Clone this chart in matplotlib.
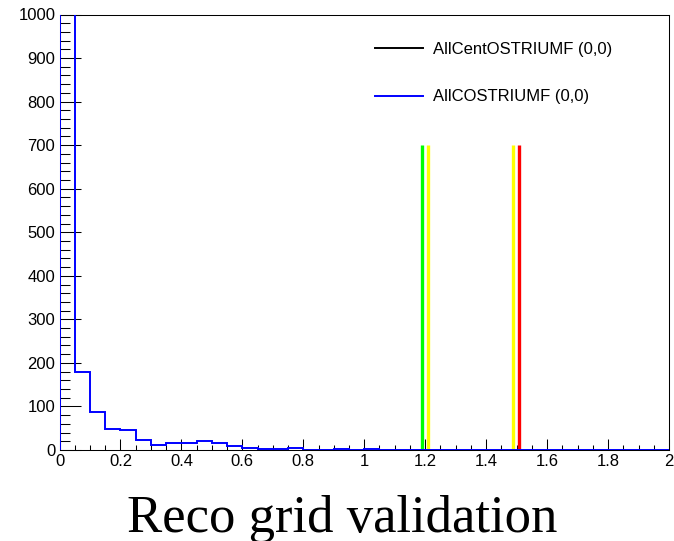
import numpy as np
import matplotlib
matplotlib.use("Agg")
import matplotlib.pyplot as plt
from matplotlib.lines import Line2D
from matplotlib.ticker import MultipleLocator

# histogram bin edges (0 to 2 in steps of 0.05)
bin_edges = np.linspace(0.0, 2.0, 41)

# AllCOSTRIUMF (0,0) counts per bin (first bin runs off the top)
counts = [1500, 180, 88, 49, 46, 24, 11, 15, 15, 20,
          16, 9, 5, 2, 2, 4, 0, 0, 2, 0,
          2, 0, 0, 0, 0, 0, 0, 0, 0, 0,
          0, 0, 0, 0, 0, 0, 0, 0, 0, 0]

# marker lines
marker_x = [1.188, 1.208, 1.489, 1.509]
marker_colors = ["#00ff00", "#ffff00", "#ffff00", "#ff0000"]
marker_height = 700

legend_labels = ["AllCentOSTRIUMF (0,0)", "AllCOSTRIUMF (0,0)"]
title = "Reco grid validation"

fig = plt.figure(figsize=(6.74, 5.41), dpi=100)
ax = fig.add_axes([59.5 / 674, 1 - 450 / 541, (669 - 59.5) / 674, (450 - 14.5) / 541])

ax.stairs(counts, bin_edges, color="blue", lw=1.4, zorder=3)
for x, c in zip(marker_x, marker_colors):
    ax.vlines(x, 0, marker_height, color=c, lw=2.4, zorder=2)

ax.set_xlim(0, 2)
ax.set_ylim(0, 1000)

ax.xaxis.set_major_locator(MultipleLocator(0.2))
ax.xaxis.set_minor_locator(MultipleLocator(0.05))
ax.yaxis.set_major_locator(MultipleLocator(100))
ax.yaxis.set_minor_locator(MultipleLocator(20))
ax.tick_params(axis="both", which="both", direction="in", top=False, right=False,
               width=0.75, labelsize=12, pad=3)
ax.tick_params(axis="y", which="major", length=15)
ax.tick_params(axis="y", which="minor", length=7.2)
ax.tick_params(axis="x", which="major", length=8)
ax.tick_params(axis="x", which="minor", length=3.8)
ax.xaxis.set_major_formatter(matplotlib.ticker.FuncFormatter(lambda v, p: f"{v:g}"))
for lab in ax.get_xticklabels() + ax.get_yticklabels():
    lab.set_family("Liberation Sans")
for s in ax.spines.values():
    s.set_linewidth(0.75)

handles = [Line2D([], [], color="black", lw=1.4), Line2D([], [], color="blue", lw=1.4)]
fig.legend(handles, legend_labels, loc="upper left", bbox_to_anchor=(375 / 674, 1 - 42 / 541),
           frameon=False, borderpad=0, borderaxespad=0, handlelength=2.9, handletextpad=0.6,
           labelspacing=1.95, prop={"family": "Liberation Sans", "size": 12})

fig.text(0.507, 1 - 532 / 541, title, ha="center", va="baseline",
         family="Liberation Serif", fontsize=38)

fig.savefig("out.png", dpi=100)
